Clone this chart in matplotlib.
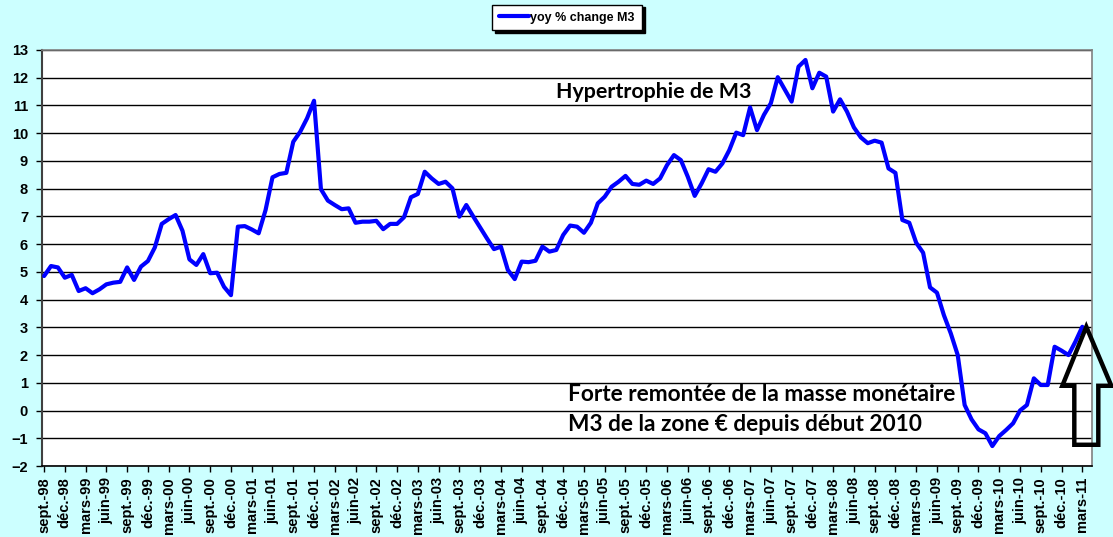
import matplotlib
matplotlib.use('Agg')
import matplotlib.pyplot as plt
import matplotlib.transforms as mtransforms
from matplotlib.patches import Polygon

# Monthly yoy % change of M3, sept-98 .. mars-11
m3_yoy = [
    4.85, 5.21, 5.16, 4.79, 4.89, 4.31, 4.41, 4.23, 4.37, 4.55,
    4.61, 4.64, 5.16, 4.71, 5.19, 5.39, 5.88, 6.73, 6.90, 7.05,
    6.48, 5.45, 5.25, 5.64, 4.95, 4.97, 4.46, 4.16, 6.63, 6.65,
    6.53, 6.39, 7.23, 8.41, 8.53, 8.57, 9.69, 10.05, 10.54, 11.17,
    7.98, 7.57, 7.41, 7.26, 7.29, 6.77, 6.81, 6.81, 6.84, 6.54,
    6.73, 6.73, 6.97, 7.69, 7.81, 8.61, 8.37, 8.17, 8.25, 8.01,
    6.99, 7.41, 7.00, 6.60, 6.20, 5.82, 5.91, 5.07, 4.74, 5.37,
    5.35, 5.40, 5.91, 5.73, 5.79, 6.33, 6.67, 6.63, 6.41, 6.77,
    7.47, 7.71, 8.07, 8.25, 8.46, 8.17, 8.14, 8.29, 8.17, 8.37,
    8.85, 9.21, 9.03, 8.43, 7.74, 8.19, 8.70, 8.61, 8.91, 9.39,
    10.02, 9.93, 10.93, 10.11, 10.66, 11.08, 12.02, 11.58, 11.14, 12.40,
    12.64, 11.62, 12.18, 12.04, 10.78, 11.22, 10.78, 10.21, 9.85, 9.64,
    9.73, 9.66, 8.73, 8.57, 6.87, 6.77, 6.05, 5.69, 4.44, 4.25,
    3.44, 2.78, 2.00, 0.20, -0.32, -0.68, -0.82, -1.28, -0.92, -0.70,
    -0.46, 0.00, 0.20, 1.16, 0.92, 0.92, 2.30, 2.16, 2.00, 2.48,
    3.02,
]
quarter_months = ['sept.', 'déc.', 'mars', 'juin']
first_year = 1998
series_name = 'yoy % change M3'
note_top = 'Hypertrophie de M3'
note_bottom = ['Forte remontée de la masse monétaire',
               'M3 de la zone € depuis début 2010']

months = list(range(len(m3_yoy)))

# tick labels every 3 months starting at sept-98
tick_pos = list(range(0, len(m3_yoy), 3))
tick_labels = []
year = first_year
for k, p in enumerate(tick_pos):
    name = quarter_months[k % 4]
    if name == 'mars' and k > 0:
        year += 1
    tick_labels.append(f'{name}-{year % 100:02d}')

BG = '#CCFFFF'
fig = plt.figure(figsize=(11.13, 5.37), dpi=100, facecolor=BG)
ax = fig.add_axes([42 / 1113, 1 - 466 / 537, (1092 - 42) / 1113, (466 - 50) / 537])
ax.set_facecolor('white')

ax.plot(months, m3_yoy, color='#0000FF', lw=3.0, solid_joinstyle='round',
        solid_capstyle='round', label=series_name, zorder=3)

ax.set_xlim(-0.3, 151.4)
ax.set_ylim(-2, 13)
ax.set_yticks(range(-2, 14))
ax.set_xticks(tick_pos)
ax.set_xticklabels(tick_labels, rotation=90, fontsize=10.5, fontweight='bold',
                   family='Liberation Sans')
for lab in ax.get_yticklabels():
    lab.set_fontsize(10.5)
    lab.set_fontweight('bold')
    lab.set_family('Liberation Sans')
ax.tick_params(axis='both', direction='out', length=4, width=1, color='black', pad=4)
ax.tick_params(axis='y', pad=6)
ax.yaxis.grid(True, color='black', lw=1.0)
ax.set_axisbelow(True)

for side in ['top', 'right']:
    ax.spines[side].set_color('#808080')
    ax.spines[side].set_linewidth(1.2)
ax.spines['left'].set_color('#404040')
ax.spines['left'].set_linewidth(1.5)
ax.spines['bottom'].set_color('black')
ax.spines['bottom'].set_linewidth(1.2)

leg = fig.legend(loc='center', bbox_to_anchor=(567 / 1113, 1 - 17.5 / 537),
                 prop={'family': 'Liberation Sans', 'weight': 'bold', 'size': 9},
                 frameon=True, fancybox=False, edgecolor='black', framealpha=1,
                 shadow={'color': 'black', 'alpha': 1}, handlelength=2.4,
                 handletextpad=0.1, borderpad=0.55)
leg.get_frame().set_linewidth(1.0)

ax.text(0.490, 0.9, note_top, transform=ax.transAxes, fontsize=15.4,
        fontweight='bold', family='Lato', color='black', va='center')
ax.text(0.5005, 0.171, note_bottom[0], transform=ax.transAxes, fontsize=16.3,
        fontweight='bold', family='Lato', color='black', va='center')
ax.text(0.5005, 0.1, note_bottom[1], transform=ax.transAxes, fontsize=16.3,
        fontweight='bold', family='Lato', color='black', va='center')

# hollow up arrow, tip anchored on the last point
tip = mtransforms.ScaledTranslation(months[-1], m3_yoy[-1], ax.transData)
arrow_verts = [(4, 0), (29, -59), (16, -59), (16, -118), (-8, -118),
               (-8, -59), (-20, -59)]
arrow = Polygon(arrow_verts, closed=True, fill=False, edgecolor='black',
                lw=3.2, joinstyle='miter', transform=mtransforms.Affine2D() + tip,
                clip_on=False, zorder=5)
fig.add_artist(arrow)

fig.savefig('out.png', dpi=100, facecolor=BG)
